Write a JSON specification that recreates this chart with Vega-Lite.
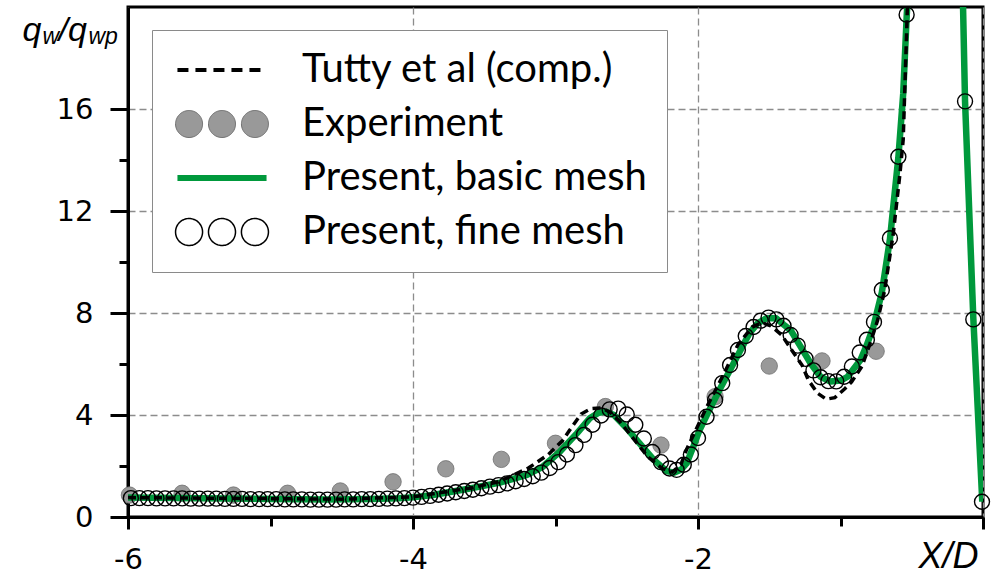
{
  "$schema": "https://vega.github.io/schema/vega-lite/v6.json",
  "width": 855,
  "height": 510,
  "autosize": {"type": "none"},
  "padding": {"left": 128, "top": 7, "right": 12, "bottom": 57},
  "background": "white",
  "config": {
    "view": {"stroke": "black", "strokeWidth": 3},
    "font": "Liberation Sans"
  },
  "data": {
    "values": [
      {"series": "Experiment", "x": -5.99, "y": 0.86},
      {"series": "Experiment", "x": -5.62, "y": 0.93},
      {"series": "Experiment", "x": -5.26, "y": 0.86},
      {"series": "Experiment", "x": -4.88, "y": 0.93},
      {"series": "Experiment", "x": -4.51, "y": 1.02},
      {"series": "Experiment", "x": -4.14, "y": 1.38},
      {"series": "Experiment", "x": -3.77, "y": 1.89},
      {"series": "Experiment", "x": -3.38, "y": 2.26},
      {"series": "Experiment", "x": -3.0, "y": 2.89},
      {"series": "Experiment", "x": -2.65, "y": 4.33},
      {"series": "Experiment", "x": -2.26, "y": 2.82},
      {"series": "Experiment", "x": -1.88, "y": 4.72},
      {"series": "Experiment", "x": -1.5, "y": 5.92},
      {"series": "Experiment", "x": -1.13, "y": 6.12},
      {"series": "Experiment", "x": -0.75, "y": 6.5},

      {"series": "Present, basic mesh", "x": -6.0, "y": 0.76},
      {"series": "Present, basic mesh", "x": -5.5, "y": 0.74},
      {"series": "Present, basic mesh", "x": -5.0, "y": 0.71},
      {"series": "Present, basic mesh", "x": -4.6, "y": 0.69},
      {"series": "Present, basic mesh", "x": -4.3, "y": 0.71},
      {"series": "Present, basic mesh", "x": -4.1, "y": 0.74},
      {"series": "Present, basic mesh", "x": -4.0, "y": 0.77},
      {"series": "Present, basic mesh", "x": -3.86, "y": 0.86},
      {"series": "Present, basic mesh", "x": -3.62, "y": 1.1},
      {"series": "Present, basic mesh", "x": -3.39, "y": 1.35},
      {"series": "Present, basic mesh", "x": -3.2, "y": 1.65},
      {"series": "Present, basic mesh", "x": -3.09, "y": 1.97},
      {"series": "Present, basic mesh", "x": -2.97, "y": 2.56},
      {"series": "Present, basic mesh", "x": -2.85, "y": 3.28},
      {"series": "Present, basic mesh", "x": -2.76, "y": 3.87},
      {"series": "Present, basic mesh", "x": -2.7, "y": 4.08},
      {"series": "Present, basic mesh", "x": -2.65, "y": 4.14},
      {"series": "Present, basic mesh", "x": -2.59, "y": 4.0},
      {"series": "Present, basic mesh", "x": -2.5, "y": 3.48},
      {"series": "Present, basic mesh", "x": -2.41, "y": 2.89},
      {"series": "Present, basic mesh", "x": -2.31, "y": 2.24},
      {"series": "Present, basic mesh", "x": -2.22, "y": 1.8},
      {"series": "Present, basic mesh", "x": -2.17, "y": 1.74},
      {"series": "Present, basic mesh", "x": -2.12, "y": 1.85},
      {"series": "Present, basic mesh", "x": -2.08, "y": 2.1},
      {"series": "Present, basic mesh", "x": -2.03, "y": 2.8},
      {"series": "Present, basic mesh", "x": -1.99, "y": 3.4},
      {"series": "Present, basic mesh", "x": -1.92, "y": 4.2},
      {"series": "Present, basic mesh", "x": -1.85, "y": 4.98},
      {"series": "Present, basic mesh", "x": -1.75, "y": 6.03},
      {"series": "Present, basic mesh", "x": -1.64, "y": 7.2},
      {"series": "Present, basic mesh", "x": -1.58, "y": 7.6},
      {"series": "Present, basic mesh", "x": -1.52, "y": 7.79},
      {"series": "Present, basic mesh", "x": -1.45, "y": 7.79},
      {"series": "Present, basic mesh", "x": -1.4, "y": 7.55},
      {"series": "Present, basic mesh", "x": -1.35, "y": 7.33},
      {"series": "Present, basic mesh", "x": -1.28, "y": 6.68},
      {"series": "Present, basic mesh", "x": -1.21, "y": 6.03},
      {"series": "Present, basic mesh", "x": -1.14, "y": 5.5},
      {"series": "Present, basic mesh", "x": -1.07, "y": 5.31},
      {"series": "Present, basic mesh", "x": -1.0, "y": 5.35},
      {"series": "Present, basic mesh", "x": -0.95, "y": 5.5},
      {"series": "Present, basic mesh", "x": -0.86, "y": 6.16},
      {"series": "Present, basic mesh", "x": -0.815, "y": 6.75},
      {"series": "Present, basic mesh", "x": -0.77, "y": 7.45},
      {"series": "Present, basic mesh", "x": -0.71, "y": 8.8},
      {"series": "Present, basic mesh", "x": -0.653, "y": 10.9},
      {"series": "Present, basic mesh", "x": -0.594, "y": 14.1},
      {"series": "Present, basic mesh", "x": -0.56, "y": 16.6},
      {"series": "Present, basic mesh", "x": -0.535, "y": 19.7},
      {"series": "Present, basic mesh", "x": -0.5, "y": 23.0},
      {"series": "Present, basic mesh", "x": -0.42, "y": 29.0},
      {"series": "Present, basic mesh", "x": -0.32, "y": 32.0},
      {"series": "Present, basic mesh", "x": -0.22, "y": 28.0},
      {"series": "Present, basic mesh", "x": -0.15, "y": 21.5},
      {"series": "Present, basic mesh", "x": -0.14, "y": 20.0},
      {"series": "Present, basic mesh", "x": -0.126, "y": 16.3},
      {"series": "Present, basic mesh", "x": -0.068, "y": 7.8},
      {"series": "Present, basic mesh", "x": -0.005, "y": 0.6},

      {"series": "Tutty et al (comp.)", "x": -6.0, "y": 0.76},
      {"series": "Tutty et al (comp.)", "x": -5.0, "y": 0.72},
      {"series": "Tutty et al (comp.)", "x": -4.5, "y": 0.7},
      {"series": "Tutty et al (comp.)", "x": -4.0, "y": 0.79},
      {"series": "Tutty et al (comp.)", "x": -3.6, "y": 1.13},
      {"series": "Tutty et al (comp.)", "x": -3.4, "y": 1.38},
      {"series": "Tutty et al (comp.)", "x": -3.19, "y": 1.92},
      {"series": "Tutty et al (comp.)", "x": -3.05, "y": 2.45},
      {"series": "Tutty et al (comp.)", "x": -2.95, "y": 3.0},
      {"series": "Tutty et al (comp.)", "x": -2.9, "y": 3.41},
      {"series": "Tutty et al (comp.)", "x": -2.82, "y": 4.04},
      {"series": "Tutty et al (comp.)", "x": -2.75, "y": 4.25},
      {"series": "Tutty et al (comp.)", "x": -2.68, "y": 4.28},
      {"series": "Tutty et al (comp.)", "x": -2.62, "y": 4.12},
      {"series": "Tutty et al (comp.)", "x": -2.55, "y": 3.75},
      {"series": "Tutty et al (comp.)", "x": -2.45, "y": 3.05},
      {"series": "Tutty et al (comp.)", "x": -2.35, "y": 2.35},
      {"series": "Tutty et al (comp.)", "x": -2.25, "y": 1.9},
      {"series": "Tutty et al (comp.)", "x": -2.18, "y": 1.76},
      {"series": "Tutty et al (comp.)", "x": -2.12, "y": 2.05},
      {"series": "Tutty et al (comp.)", "x": -2.08, "y": 2.65},
      {"series": "Tutty et al (comp.)", "x": -2.02, "y": 3.35},
      {"series": "Tutty et al (comp.)", "x": -1.94, "y": 4.3},
      {"series": "Tutty et al (comp.)", "x": -1.82, "y": 5.6},
      {"series": "Tutty et al (comp.)", "x": -1.72, "y": 6.75},
      {"series": "Tutty et al (comp.)", "x": -1.62, "y": 7.45},
      {"series": "Tutty et al (comp.)", "x": -1.55, "y": 7.62},
      {"series": "Tutty et al (comp.)", "x": -1.49, "y": 7.5},
      {"series": "Tutty et al (comp.)", "x": -1.413, "y": 7.14},
      {"series": "Tutty et al (comp.)", "x": -1.343, "y": 6.55},
      {"series": "Tutty et al (comp.)", "x": -1.27, "y": 5.96},
      {"series": "Tutty et al (comp.)", "x": -1.226, "y": 5.37},
      {"series": "Tutty et al (comp.)", "x": -1.16, "y": 4.85},
      {"series": "Tutty et al (comp.)", "x": -1.1, "y": 4.62},
      {"series": "Tutty et al (comp.)", "x": -1.04, "y": 4.68},
      {"series": "Tutty et al (comp.)", "x": -0.968, "y": 5.04},
      {"series": "Tutty et al (comp.)", "x": -0.922, "y": 5.3},
      {"series": "Tutty et al (comp.)", "x": -0.85, "y": 5.9},
      {"series": "Tutty et al (comp.)", "x": -0.793, "y": 6.8},
      {"series": "Tutty et al (comp.)", "x": -0.74, "y": 7.7},
      {"series": "Tutty et al (comp.)", "x": -0.69, "y": 8.9},
      {"series": "Tutty et al (comp.)", "x": -0.63, "y": 11.1},
      {"series": "Tutty et al (comp.)", "x": -0.582, "y": 13.5},
      {"series": "Tutty et al (comp.)", "x": -0.56, "y": 14.8},
      {"series": "Tutty et al (comp.)", "x": -0.536, "y": 19.0},
      {"series": "Tutty et al (comp.)", "x": -0.525, "y": 21.0},

      {"series": "Present, fine mesh", "x": -5.98, "y": 0.74},
      {"series": "Present, fine mesh", "x": -5.92, "y": 0.74},
      {"series": "Present, fine mesh", "x": -5.86, "y": 0.74},
      {"series": "Present, fine mesh", "x": -5.8, "y": 0.73},
      {"series": "Present, fine mesh", "x": -5.74, "y": 0.73},
      {"series": "Present, fine mesh", "x": -5.68, "y": 0.73},
      {"series": "Present, fine mesh", "x": -5.62, "y": 0.73},
      {"series": "Present, fine mesh", "x": -5.56, "y": 0.72},
      {"series": "Present, fine mesh", "x": -5.5, "y": 0.72},
      {"series": "Present, fine mesh", "x": -5.44, "y": 0.72},
      {"series": "Present, fine mesh", "x": -5.38, "y": 0.72},
      {"series": "Present, fine mesh", "x": -5.32, "y": 0.71},
      {"series": "Present, fine mesh", "x": -5.26, "y": 0.71},
      {"series": "Present, fine mesh", "x": -5.2, "y": 0.71},
      {"series": "Present, fine mesh", "x": -5.14, "y": 0.7},
      {"series": "Present, fine mesh", "x": -5.08, "y": 0.7},
      {"series": "Present, fine mesh", "x": -5.02, "y": 0.7},
      {"series": "Present, fine mesh", "x": -4.96, "y": 0.7},
      {"series": "Present, fine mesh", "x": -4.9, "y": 0.69},
      {"series": "Present, fine mesh", "x": -4.84, "y": 0.69},
      {"series": "Present, fine mesh", "x": -4.78, "y": 0.69},
      {"series": "Present, fine mesh", "x": -4.72, "y": 0.68},
      {"series": "Present, fine mesh", "x": -4.66, "y": 0.68},
      {"series": "Present, fine mesh", "x": -4.6, "y": 0.68},
      {"series": "Present, fine mesh", "x": -4.54, "y": 0.68},
      {"series": "Present, fine mesh", "x": -4.48, "y": 0.69},
      {"series": "Present, fine mesh", "x": -4.42, "y": 0.69},
      {"series": "Present, fine mesh", "x": -4.36, "y": 0.7},
      {"series": "Present, fine mesh", "x": -4.3, "y": 0.7},
      {"series": "Present, fine mesh", "x": -4.24, "y": 0.71},
      {"series": "Present, fine mesh", "x": -4.18, "y": 0.72},
      {"series": "Present, fine mesh", "x": -4.12, "y": 0.73},
      {"series": "Present, fine mesh", "x": -4.06, "y": 0.74},
      {"series": "Present, fine mesh", "x": -4.0, "y": 0.76},
      {"series": "Present, fine mesh", "x": -3.94, "y": 0.79},
      {"series": "Present, fine mesh", "x": -3.88, "y": 0.83},
      {"series": "Present, fine mesh", "x": -3.82, "y": 0.87},
      {"series": "Present, fine mesh", "x": -3.76, "y": 0.92},
      {"series": "Present, fine mesh", "x": -3.7, "y": 0.97},
      {"series": "Present, fine mesh", "x": -3.64, "y": 1.02},
      {"series": "Present, fine mesh", "x": -3.58, "y": 1.07},
      {"series": "Present, fine mesh", "x": -3.52, "y": 1.13},
      {"series": "Present, fine mesh", "x": -3.46, "y": 1.19},
      {"series": "Present, fine mesh", "x": -3.4, "y": 1.25},
      {"series": "Present, fine mesh", "x": -3.34, "y": 1.32},
      {"series": "Present, fine mesh", "x": -3.28, "y": 1.4},
      {"series": "Present, fine mesh", "x": -3.22, "y": 1.49},
      {"series": "Present, fine mesh", "x": -3.16, "y": 1.6},
      {"series": "Present, fine mesh", "x": -3.1, "y": 1.74},
      {"series": "Present, fine mesh", "x": -3.04, "y": 1.92},
      {"series": "Present, fine mesh", "x": -2.98, "y": 2.15},
      {"series": "Present, fine mesh", "x": -2.92, "y": 2.45},
      {"series": "Present, fine mesh", "x": -2.86, "y": 2.82},
      {"series": "Present, fine mesh", "x": -2.8, "y": 3.22},
      {"series": "Present, fine mesh", "x": -2.74, "y": 3.62},
      {"series": "Present, fine mesh", "x": -2.68, "y": 3.98},
      {"series": "Present, fine mesh", "x": -2.62, "y": 4.22},
      {"series": "Present, fine mesh", "x": -2.56, "y": 4.25},
      {"series": "Present, fine mesh", "x": -2.5, "y": 4.02},
      {"series": "Present, fine mesh", "x": -2.44, "y": 3.62},
      {"series": "Present, fine mesh", "x": -2.38, "y": 3.08},
      {"series": "Present, fine mesh", "x": -2.32, "y": 2.55},
      {"series": "Present, fine mesh", "x": -2.26, "y": 2.15},
      {"series": "Present, fine mesh", "x": -2.2, "y": 1.9},
      {"series": "Present, fine mesh", "x": -2.15, "y": 1.85},
      {"series": "Present, fine mesh", "x": -2.1, "y": 2.05},
      {"series": "Present, fine mesh", "x": -2.05, "y": 2.45},
      {"series": "Present, fine mesh", "x": -2.0, "y": 3.1},
      {"series": "Present, fine mesh", "x": -1.94, "y": 3.93},
      {"series": "Present, fine mesh", "x": -1.88, "y": 4.59},
      {"series": "Present, fine mesh", "x": -1.83, "y": 5.25},
      {"series": "Present, fine mesh", "x": -1.775, "y": 5.96},
      {"series": "Present, fine mesh", "x": -1.72, "y": 6.55},
      {"series": "Present, fine mesh", "x": -1.665, "y": 7.1},
      {"series": "Present, fine mesh", "x": -1.61, "y": 7.45},
      {"series": "Present, fine mesh", "x": -1.56, "y": 7.7},
      {"series": "Present, fine mesh", "x": -1.505, "y": 7.82},
      {"series": "Present, fine mesh", "x": -1.45, "y": 7.75},
      {"series": "Present, fine mesh", "x": -1.4, "y": 7.5},
      {"series": "Present, fine mesh", "x": -1.35, "y": 7.14},
      {"series": "Present, fine mesh", "x": -1.3, "y": 6.72},
      {"series": "Present, fine mesh", "x": -1.245, "y": 6.2},
      {"series": "Present, fine mesh", "x": -1.19, "y": 5.75},
      {"series": "Present, fine mesh", "x": -1.14, "y": 5.48},
      {"series": "Present, fine mesh", "x": -1.085, "y": 5.33},
      {"series": "Present, fine mesh", "x": -1.03, "y": 5.32},
      {"series": "Present, fine mesh", "x": -0.975, "y": 5.5},
      {"series": "Present, fine mesh", "x": -0.92, "y": 5.9},
      {"series": "Present, fine mesh", "x": -0.865, "y": 6.45},
      {"series": "Present, fine mesh", "x": -0.815, "y": 6.95},
      {"series": "Present, fine mesh", "x": -0.765, "y": 7.65},
      {"series": "Present, fine mesh", "x": -0.71, "y": 8.9},
      {"series": "Present, fine mesh", "x": -0.653, "y": 10.93},
      {"series": "Present, fine mesh", "x": -0.594, "y": 14.13},
      {"series": "Present, fine mesh", "x": -0.536, "y": 19.7},
      {"series": "Present, fine mesh", "x": -0.126, "y": 16.3},
      {"series": "Present, fine mesh", "x": -0.068, "y": 7.75},
      {"series": "Present, fine mesh", "x": -0.007, "y": 0.6}
    ]
  },
  "resolve": {"axis": {"x": "independent", "y": "independent"}},
  "encoding": {
    "x": {"field": "x", "type": "quantitative", "scale": {"domain": [-6, 0], "nice": false, "zero": false}, "axis": null},
    "y": {"field": "y", "type": "quantitative", "scale": {"domain": [0, 20], "nice": false}, "axis": null}
  },
  "layer": [
    {
      "transform": [{"filter": "datum.series === 'Experiment'"}],
      "mark": {"type": "point", "shape": "circle", "filled": true, "size": 270, "color": "#999999", "stroke": "#707070", "strokeWidth": 0.8, "opacity": 1},
      "encoding": {
        "x": {
          "field": "x",
          "type": "quantitative",
          "scale": {"domain": [-6, 0], "nice": false, "zero": false},
          "axis": {
            "orient": "bottom",
            "values": [-6, -4, -2, 0],
            "labelExpr": "datum.value < 0 ? '-' + abs(datum.value) : ''",
            "labelFlush": false,
            "labelOverlap": false,
            "labelFont": "DejaVu Sans",
            "labelFontSize": 29,
            "labelColor": "black",
            "labelPadding": 16,
            "domainColor": "black",
            "domainWidth": 3,
            "tickColor": "black",
            "tickWidth": 3,
            "tickSize": 12,
            "grid": true,
            "gridColor": "#8c8c8c",
            "gridWidth": 1.3,
            "gridDash": [7, 4],
            "title": "X/D",
            "titleFont": "Liberation Sans",
            "titleFontSize": 36,
            "titleFontStyle": "italic",
            "titleFontWeight": "normal",
            "titleColor": "black",
            "titleAlign": "right",
            "titleAnchor": "end",
            "titleBaseline": "alphabetic",
            "titleX": 850,
            "titleY": 50
          }
        },
        "y": {
          "field": "y",
          "type": "quantitative",
          "scale": {"domain": [0, 20], "nice": false},
          "axis": {
            "orient": "left",
            "values": [0, 4, 8, 12, 16],
            "labelOverlap": false,
            "labelFont": "DejaVu Sans",
            "labelFontSize": 29,
            "labelColor": "black",
            "labelPadding": 17,
            "domainColor": "black",
            "domainWidth": 3,
            "tickColor": "black",
            "tickWidth": 3,
            "tickSize": 18,
            "grid": true,
            "gridColor": "#8c8c8c",
            "gridWidth": 1.3,
            "gridDash": [7, 4],
            "title": "q",
            "titleFont": "Liberation Sans",
            "titleFontSize": 34,
            "titleFontStyle": "italic",
            "titleFontWeight": "normal",
            "titleColor": "black",
            "titleAngle": 0,
            "titleAlign": "left",
            "titleBaseline": "alphabetic",
            "titleX": -106,
            "titleY": 33
          }
        }
      }
    },
    {
      "transform": [{"filter": "datum.series === 'Present, basic mesh'"}],
      "mark": {"type": "line", "color": "#00993c", "strokeWidth": 6.5, "strokeJoin": "round", "clip": true}
    },
    {
      "transform": [{"filter": "datum.series === 'Tutty et al (comp.)'"}],
      "mark": {"type": "line", "color": "black", "strokeWidth": 3.5, "strokeDash": [8, 5], "clip": true}
    },
    {
      "transform": [{"filter": "datum.series === 'Present, fine mesh'"}],
      "mark": {"type": "point", "shape": "circle", "filled": false, "color": "black", "size": 225, "strokeWidth": 1.4, "opacity": 1}
    },
    {
      "transform": [{"filter": "false"}],
      "mark": {"type": "point", "filled": false, "opacity": 1},
      "encoding": {
        "x": {
          "field": "x",
          "type": "quantitative",
          "scale": {"domain": [-6, 0], "nice": false, "zero": false},
          "axis": {
            "orient": "bottom",
            "values": [-5, -3, -1],
            "labels": false,
            "domain": false,
            "grid": false,
            "tickSize": 9,
            "tickWidth": 3,
            "tickColor": "black",
            "title": "w",
            "titleFont": "Liberation Sans",
            "titleFontSize": 23,
            "titleFontStyle": "italic",
            "titleFontWeight": "normal",
            "titleColor": "black",
            "titleAngle": 0,
            "titleAlign": "left",
            "titleBaseline": "alphabetic",
            "titleX": -86,
            "titleY": -474
          }
        },
        "y": {
          "field": "y",
          "type": "quantitative",
          "scale": {"domain": [0, 20], "nice": false},
          "axis": {
            "orient": "left",
            "values": [2, 6, 10, 14],
            "labels": false,
            "domain": false,
            "grid": false,
            "tickSize": 9,
            "tickWidth": 3,
            "tickColor": "black",
            "title": "/q",
            "titleFont": "Liberation Sans",
            "titleFontSize": 34,
            "titleFontStyle": "italic",
            "titleFontWeight": "normal",
            "titleColor": "black",
            "titleAngle": 0,
            "titleAlign": "left",
            "titleBaseline": "alphabetic",
            "titleX": -70,
            "titleY": 33
          }
        },
        "shape": {
          "field": "series",
          "type": "nominal",
          "scale": {
            "domain": ["Tutty et al (comp.)", "Experiment", "Present, basic mesh", "Present, fine mesh"],
            "range": [
              "M-3.3,0H3.3",
              "M-3.44,0A1,1,0,1,0,-1.44,0A1,1,0,1,0,-3.44,0Z M-1,0A1,1,0,1,0,1,0A1,1,0,1,0,-1,0Z M1.44,0A1,1,0,1,0,3.44,0A1,1,0,1,0,1.44,0Z",
              "M-3.3,0H3.3",
              "M-3.44,0A1,1,0,1,0,-1.44,0A1,1,0,1,0,-3.44,0Z M-1,0A1,1,0,1,0,1,0A1,1,0,1,0,-1,0Z M1.44,0A1,1,0,1,0,3.44,0A1,1,0,1,0,1.44,0Z"
            ]
          },
          "legend": {
            "orient": "none",
            "legendX": 24,
            "legendY": 23,
            "title": null,
            "padding": 20,
            "strokeColor": "#8a8a8a",
            "fillColor": "white",
            "labelFont": "Lato",
            "labelFontSize": 40,
            "labelColor": "black",
            "labelLimit": 0,
            "symbolSize": 729,
            "symbolOffset": 30,
            "symbolOpacity": 1,
            "labelOffset": 60,
            "rowPadding": 14
          }
        },
        "fill": {
          "field": "series",
          "type": "nominal",
          "scale": {
            "domain": ["Tutty et al (comp.)", "Experiment", "Present, basic mesh", "Present, fine mesh"],
            "range": ["transparent", "#999999", "transparent", "transparent"]
          }
        },
        "stroke": {
          "field": "series",
          "type": "nominal",
          "scale": {
            "domain": ["Tutty et al (comp.)", "Experiment", "Present, basic mesh", "Present, fine mesh"],
            "range": ["#000000", "#707070", "#00993c", "#000000"]
          }
        },
        "strokeDash": {
          "field": "series",
          "type": "nominal",
          "scale": {
            "domain": ["Tutty et al (comp.)", "Experiment", "Present, basic mesh", "Present, fine mesh"],
            "range": [[11, 7], [1, 0], [1, 0], [1, 0]]
          }
        },
        "strokeWidth": {
          "field": "series",
          "type": "nominal",
          "scale": {
            "type": "ordinal",
            "domain": ["Tutty et al (comp.)", "Experiment", "Present, basic mesh", "Present, fine mesh"],
            "range": [4, 1, 6, 1.5]
          }
        }
      }
    },
    {
      "transform": [{"filter": "false"}],
      "mark": {"type": "point", "opacity": 0},
      "encoding": {
        "y": {
          "field": "y",
          "type": "quantitative",
          "scale": {"domain": [0, 20], "nice": false},
          "axis": {
            "orient": "left",
            "values": [],
            "labels": false,
            "ticks": false,
            "domain": false,
            "grid": false,
            "title": "wp",
            "titleFont": "Liberation Sans",
            "titleFontSize": 23,
            "titleFontStyle": "italic",
            "titleFontWeight": "normal",
            "titleColor": "black",
            "titleAngle": 0,
            "titleAlign": "left",
            "titleBaseline": "alphabetic",
            "titleX": -40,
            "titleY": 36
          }
        }
      }
    }
  ]
}
